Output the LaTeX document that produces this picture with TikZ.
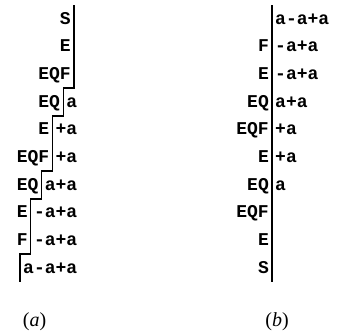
\documentclass[tikz,border=0pt]{standalone}
\usepackage{fontspec}
\setmainfont{Liberation Serif}
\newfontfamily\cour{Liberation Mono}
\usetikzlibrary{positioning}

\begin{document}
\begin{tikzpicture}[x=1pt, y=-1pt,
   stk/.style={anchor=base east, inner sep=3pt, font=\cour\bfseries\fontsize{18}{18}\selectfont},
   inp/.style={anchor=base west, inner sep=3pt, font=\cour\bfseries\fontsize{18}{18}\selectfont},
   lbl/.style={font=\fontsize{20}{20}\selectfont},
   bar/.style={line width=1.2pt}]
\useasboundingbox (0,0) rectangle (337,335);
% (a)
\node[stk] (s1) at (74,24) {S};
\node[stk] (s2) at (74,51.7) {E};
\node[stk] (s3) at (74,79.4) {EQF};
\node[stk] (s4) at (63.2,107.1) {EQ};
\node[inp] (i4) at (63.2,107.1) {a};
\node[stk] (s5) at (52.4,134.8) {E};
\node[inp] (i5) at (52.4,134.8) {+a};
\node[stk] (s6) at (52.4,162.5) {EQF};
\node[inp] (i6) at (52.4,162.5) {+a};
\node[stk] (s7) at (41.6,190.2) {EQ};
\node[inp] (i7) at (41.6,190.2) {a+a};
\node[stk] (s8) at (30.8,217.9) {E};
\node[inp] (i8) at (30.8,217.9) {-a+a};
\node[stk] (s9) at (30.8,245.6) {F};
\node[inp] (i9) at (30.8,245.6) {-a+a};
\node[inp] (i10) at (20,273.3) {a-a+a};
\coordinate (atop) at (74,5);
\coordinate (abot) at (20,282);
\draw[bar] (atop) |- (63.2,88) |- (52.4,116) |- (41.6,171) |- (30.8,199)
   |- (20,254) -- (abot);
\node[lbl] (capa) at (34.5,322) {(\textit{a})};
% (b)
\node[inp] (j1) at (272,24) {a-a+a};
\node[stk] (t2) at (272,51.7) {F};
\node[inp] (j2) at (272,51.7) {-a+a};
\node[stk] (t3) at (272,79.4) {E};
\node[inp] (j3) at (272,79.4) {-a+a};
\node[stk] (t4) at (272,107.1) {EQ};
\node[inp] (j4) at (272,107.1) {a+a};
\node[stk] (t5) at (272,134.8) {EQF};
\node[inp] (j5) at (272,134.8) {+a};
\node[stk] (t6) at (272,162.5) {E};
\node[inp] (j6) at (272,162.5) {+a};
\node[stk] (t7) at (272,190.2) {EQ};
\node[inp] (j7) at (272,190.2) {a};
\node[stk] (t8) at (272,217.9) {EQF};
\node[stk] (t9) at (272,245.6) {E};
\node[stk] (t10) at (272,273.3) {S};
\coordinate (btop) at (272,5);
\coordinate (bbot) at (272,282);
\draw[bar] (btop) -- (bbot);
\node[lbl] (capb) at (277,322) {(\textit{b})};
\end{tikzpicture}
\end{document}
